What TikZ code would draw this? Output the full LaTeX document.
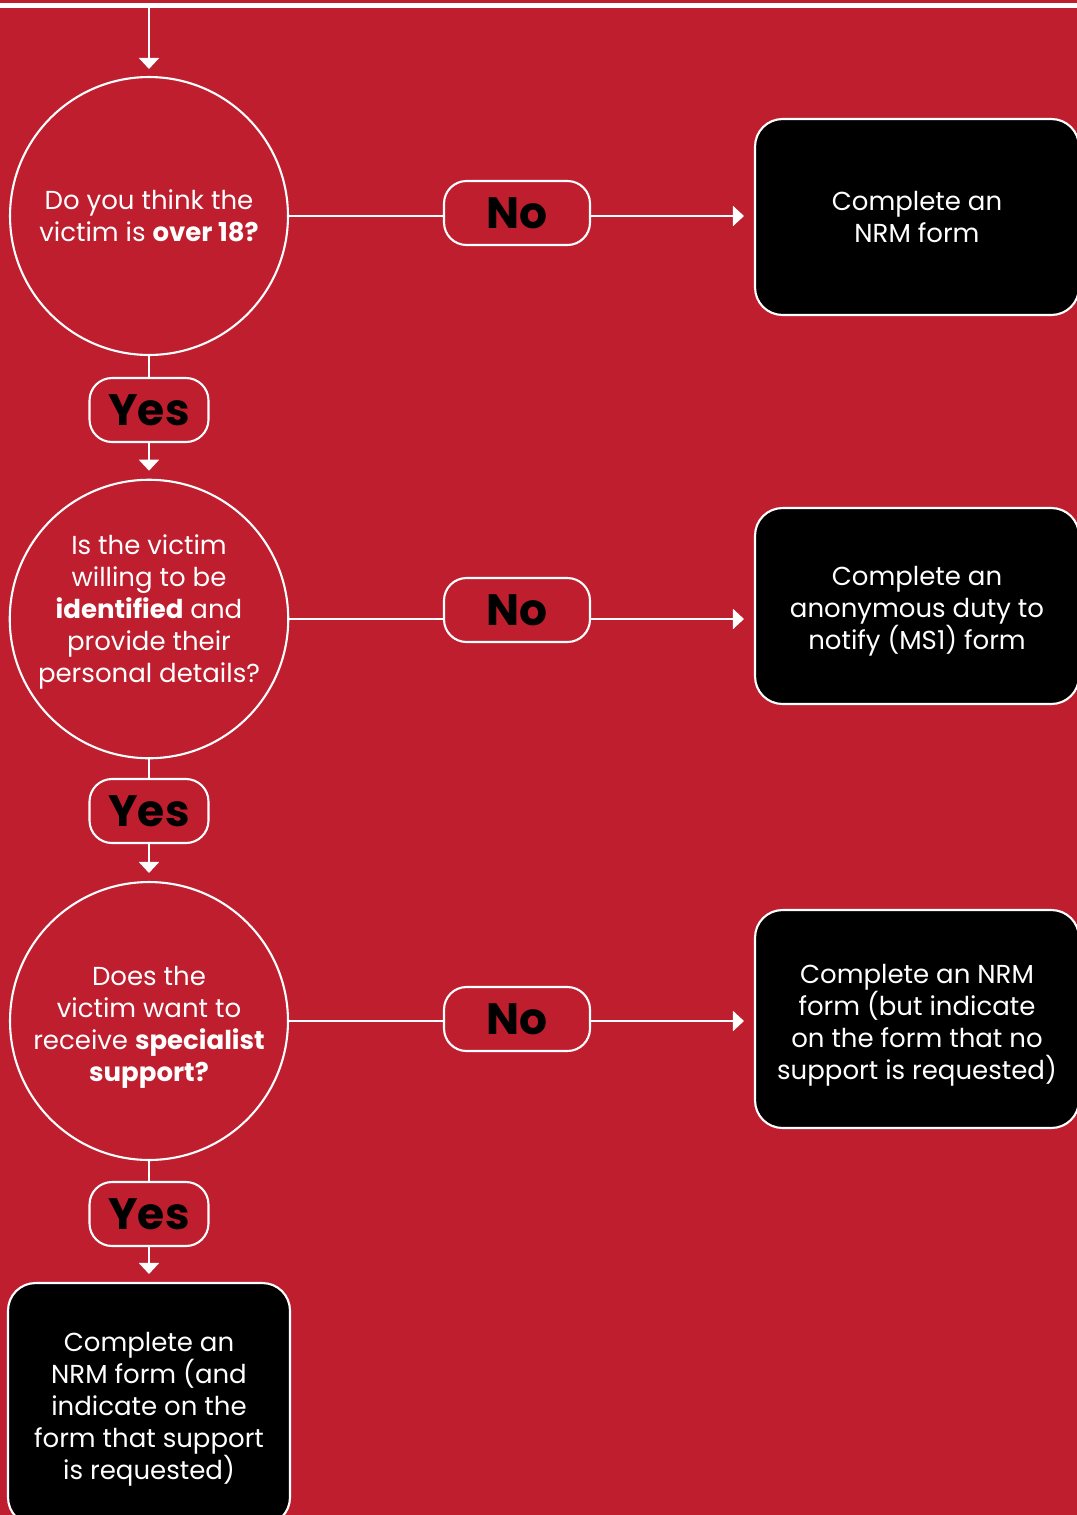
\documentclass[tikz,border=0pt]{standalone}
\usepackage{fontspec}
\setmainfont{Poppins}
\usepackage{tikz}
\usetikzlibrary{positioning}
\usetikzlibrary{arrows.meta}
\usetikzlibrary{shapes}
\definecolor{nrmred}{RGB}{190,30,46}
\tikzset{question/.style={circle,draw=white,line width=1.2pt,minimum size=5.56cm,inner sep=0pt,text=white,align=center,font=\fontsize{14.8}{18.2}\selectfont},
	answer/.style={rounded corners=0.45cm,draw=white,line width=1.2pt,minimum height=1.28cm,inner sep=0pt,text=black,font=\fontsize{25}{30}\selectfont\bfseries},
	outcome/.style={rounded corners=0.55cm,fill=black,draw=white,line width=1.2pt,inner sep=0pt,text=white,align=center,font=\fontsize{14.8}{18.2}\selectfont},}

\begin{document}
\begin{tikzpicture}[x=0.02cm, y=-0.02cm, >={Triangle[width=0.4cm,length=0.22cm]}, white, line width=1.1pt]
	\fill[nrmred] (0,0) rectangle (1077,1515);
	\useasboundingbox (0,0) rectangle (1077,1515);
	\clip (0,0) rectangle (1077,1515);
	\draw[line width=0.1cm] (0,5.5) -- (1077,5.5);
	\coordinate (start) at (149,8);

		\node[question] (q1) at (149,216) {Do you think the\\victim is \textbf{over 18?}};
		\node[question] (q2) at (149,619) {Is the victim\\willing to be\\\textbf{identified} and\\provide their\\personal details?\\[-6pt]};
		\node[question] (q3) at (149,1021) {Does the\\victim want to\\receive \textbf{specialist}\\\textbf{support?}\\[-21pt]};

		\node[answer, minimum width=2.38cm] (yes1) at (149,410) {Yes};
		\node[answer, minimum width=2.38cm] (yes2) at (149,811) {Yes};
		\node[answer, minimum width=2.38cm] (yes3) at (149,1214) {Yes};
		\node[answer, minimum width=2.92cm] (no1) at (517,213) {No};
		\node[answer, minimum width=2.92cm] (no2) at (517,610) {No};
		\node[answer, minimum width=2.92cm] (no3) at (517,1019) {No};

		\node[outcome, minimum width=6.48cm, minimum height=3.92cm] (nrm) at (917,217) {Complete an\\NRM form};
		\node[outcome, minimum width=6.48cm, minimum height=3.92cm] (ms1) at (917,606) {Complete an\\anonymous duty to\\notify (MS1) form\\[-20pt]};
		\node[outcome, minimum width=6.48cm, minimum height=4.36cm] (nosupport) at (917,1019) {Complete an NRM\\form (but indicate\\on the form that no\\support is requested)\\[-21pt]};
		\node[outcome, minimum width=5.64cm, minimum height=4.84cm] (support) at (149,1404) {Complete an\\NRM form (and\\indicate on the\\form that support\\is requested)\\[-20pt]};

	\draw[->, shorten >=0.14cm] (start) -- (q1);
	\draw (q1) -- (yes1);
	\draw[->, shorten >=0.16cm] (yes1) -- (q2);
	\draw (q2) -- (yes2);
	\draw[->, shorten >=0.16cm] (yes2) -- (q3);
	\draw (q3) -- (yes3);
	\draw[->, shorten >=0.16cm] (yes3) -- (support);
	\draw (q1.east) -- (no1.west |- q1.east);
	\draw[->, shorten >=0.2cm] (no1.east |- q1.east) -- (nrm.west |- q1.east);
	\draw (q2.east) -- (no2.west |- q2.east);
	\draw[->, shorten >=0.2cm] (no2.east |- q2.east) -- (ms1.west |- q2.east);
	\draw (q3.east) -- (no3.west |- q3.east);
	\draw[->, shorten >=0.2cm] (no3.east |- q3.east) -- (nosupport.west |- q3.east);
\end{tikzpicture}
\end{document}
